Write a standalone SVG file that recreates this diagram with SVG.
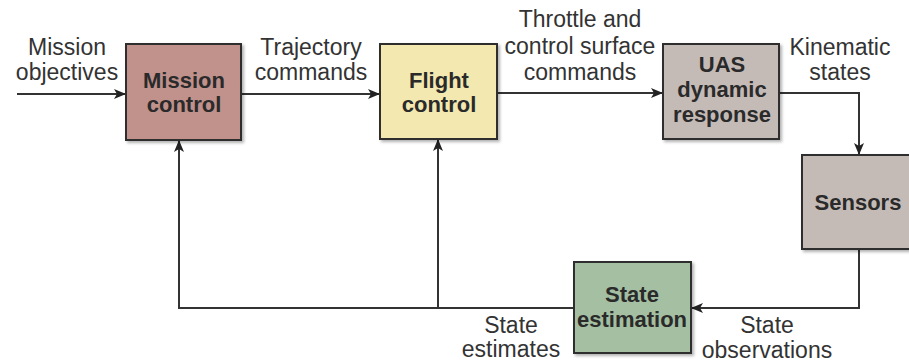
<svg xmlns="http://www.w3.org/2000/svg" width="909" height="363" viewBox="0 0 909 363">
  <style>
    .box { stroke: #2e2e2e; stroke-width: 2; filter: url(#shadow); }
    .title { font-family: "Liberation Sans", Arial, sans-serif; font-size: 22px; font-weight: bold; fill: #2a2a2a; text-anchor: middle; }
    .label { font-family: "Liberation Sans", Arial, sans-serif; font-size: 23px; fill: #333333; text-anchor: middle; }
    .wire { fill: none; stroke: #333333; stroke-width: 2; }
  </style>
  <defs>
    <filter id="shadow" x="-10%" y="-10%" width="130%" height="130%">
      <feDropShadow dx="2" dy="2" stdDeviation="1.5" flood-color="#000" flood-opacity="0.3"/>
    </filter>
    <marker id="arrow" viewBox="0 0 12 10" refX="11" refY="5" markerWidth="12" markerHeight="10" markerUnits="userSpaceOnUse" orient="auto">
      <path d="M0,0 L12,5 L0,10 L3,5 z" fill="#222222"/>
    </marker>
  </defs>

  <rect width="909" height="363" fill="#ffffff"/>

  <!-- connectors -->
  <g id="connectors">
    <path class="wire" d="M17,94 H125" marker-end="url(#arrow)"/>
    <path class="wire" d="M241,94 H379" marker-end="url(#arrow)"/>
    <path class="wire" d="M498,93 H662" marker-end="url(#arrow)"/>
    <path class="wire" d="M779,93 H859 V154" marker-end="url(#arrow)"/>
    <path class="wire" d="M859,249 V308 H692" marker-end="url(#arrow)"/>
    <path class="wire" d="M574,308 H179 V141" marker-end="url(#arrow)"/>
    <path class="wire" d="M438,308 V140" marker-end="url(#arrow)"/>
  </g>

  <!-- edge labels -->
  <g id="edge-labels">
    <text class="label" x="67" y="55">Mission</text>
    <text class="label" x="67" y="80">objectives</text>
    <text class="label" x="311" y="55">Trajectory</text>
    <text class="label" x="311" y="80">commands</text>
    <text class="label" x="580" y="27">Throttle and</text>
    <text class="label" x="580" y="54">control surface</text>
    <text class="label" x="580" y="80">commands</text>
    <text class="label" x="840" y="55">Kinematic</text>
    <text class="label" x="840" y="80">states</text>
    <text class="label" x="767" y="333">State</text>
    <text class="label" x="767" y="358">observations</text>
    <text class="label" x="511" y="333">State</text>
    <text class="label" x="511" y="357">estimates</text>
  </g>

  <!-- nodes -->
  <g id="mission-control">
    <rect class="box" x="126" y="44" width="115" height="96" fill="#c1918b"/>
    <text class="title" x="184" y="88">Mission</text>
    <text class="title" x="184" y="112">control</text>
  </g>
  <g id="flight-control">
    <rect class="box" x="380" y="44" width="117" height="95" fill="#f3e8af"/>
    <text class="title" x="439" y="88">Flight</text>
    <text class="title" x="439" y="112">control</text>
  </g>
  <g id="uas-dynamic-response">
    <rect class="box" x="663" y="44" width="116" height="95" fill="#c5bbb6"/>
    <text class="title" x="722" y="72">UAS</text>
    <text class="title" x="722" y="97">dynamic</text>
    <text class="title" x="722" y="122">response</text>
  </g>
  <g id="sensors">
    <rect class="box" x="802" y="155" width="120" height="94" fill="#c5bbb6"/>
    <text class="title" x="858" y="210">Sensors</text>
  </g>
  <g id="state-estimation">
    <rect class="box" x="574" y="262" width="117" height="91" fill="#a4bfa1"/>
    <text class="title" x="632" y="302">State</text>
    <text class="title" x="632" y="327">estimation</text>
  </g>
</svg>
